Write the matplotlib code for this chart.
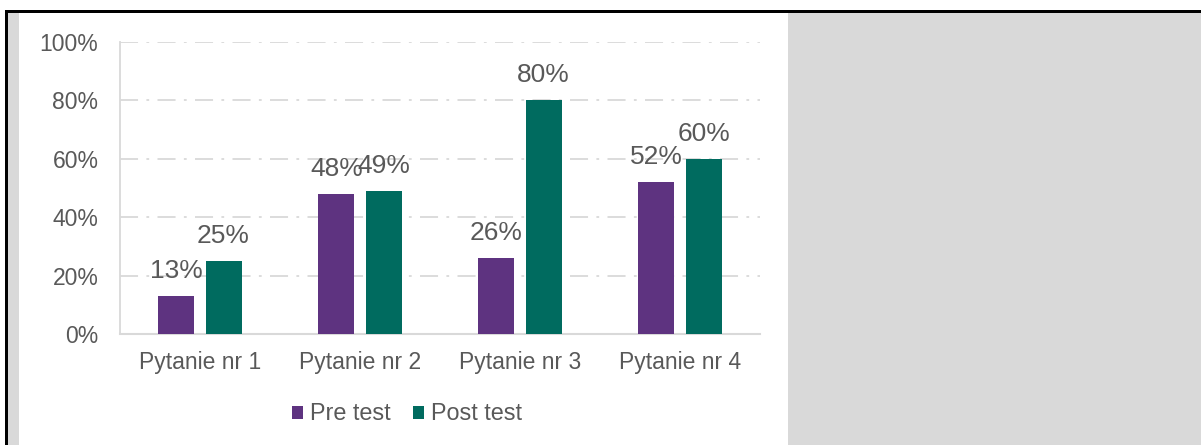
import matplotlib
matplotlib.use("Agg")
import matplotlib.pyplot as plt
from matplotlib.patches import Rectangle, Patch
import numpy as np

categories = ["Pytanie nr 1", "Pytanie nr 2", "Pytanie nr 3", "Pytanie nr 4"]
pre_test = [13, 48, 26, 52]
post_test = [25, 49, 80, 60]
series_names = ["Pre test", "Post test"]
y_ticks = [0, 20, 40, 60, 80, 100]

PURPLE = "#5e3380"
TEAL = "#006b5f"
TXT = "#595959"
GRID = "#d9d9d9"

plt.rcParams['font.family'] = ['Liberation Sans', 'DejaVu Sans']
plt.rcParams['lines.scale_dashes'] = False

W, H = 1201, 445
fig = plt.figure(figsize=(W / 100, H / 100), dpi=100)

def px(x0, y0, x1, y1):
    return (x0 / W, 1 - y1 / H, (x1 - x0) / W, (y1 - y0) / H)

def rect(x0, y0, x1, y1, color):
    l, b, w, h = px(x0, y0, x1, y1)
    fig.add_artist(Rectangle((l, b), w, h, transform=fig.transFigure,
                             facecolor=color, edgecolor='none', zorder=0))

rect(5, 9.5, 1201, 12.5, "black")
rect(5, 9.5, 7.5, 445, "black")
rect(7.5, 12.5, 19, 445, "#d9d9d9")
rect(788, 12.5, 1201, 445, "#d9d9d9")

ax = fig.add_axes(px(120, 42, 760, 334))
ax.set_facecolor('none')

x = np.arange(len(categories))
bw = 0.225
off = 0.147
b1 = ax.bar(x - off, pre_test, bw, color=PURPLE, zorder=3)
b2 = ax.bar(x + off, post_test, bw, color=TEAL, zorder=3)

for bars, vals in ((b1, pre_test), (b2, post_test)):
    for r, v in zip(bars, vals):
        ax.annotate(f"{v}%", (r.get_x() + r.get_width() / 2, v),
                    xytext=(0, 13), textcoords='offset points',
                    ha='center', va='baseline', fontsize=19, color=TXT, zorder=4)

ax.set_xlim(-0.5, len(categories) - 0.5)
ax.set_ylim(0, 100)
ax.set_yticks(y_ticks)
ax.set_yticklabels([f"{t}%" for t in y_ticks])
ax.set_xticks(x)
ax.set_xticklabels(categories)
ax.tick_params(axis='y', length=0, pad=15.5, labelsize=16.5, labelcolor=TXT)
ax.tick_params(axis='x', length=0, pad=12, labelsize=16.5, labelcolor=TXT)

ax.yaxis.grid(True, color=GRID, linewidth=1.3, linestyle=(0, (13, 6, 2, 6)), zorder=1)
ax.set_axisbelow(True)
for s in ('top', 'right'):
    ax.spines[s].set_visible(False)
ax.spines['left'].set_color(GRID)
ax.spines['bottom'].set_color(GRID)
ax.spines['left'].set_linewidth(1.3)
ax.spines['bottom'].set_linewidth(1.5)

handles = [Patch(facecolor=PURPLE), Patch(facecolor=TEAL)]
fig.legend(handles, series_names, loc='center', bbox_to_anchor=(407 / W, 1 - 414 / H),
           ncol=2, frameon=False, fontsize=16.8, labelcolor=TXT,
           handlelength=0.46, handleheight=0.46, handletextpad=0.3,
           columnspacing=1.0)

fig.savefig("out.png", dpi=100)
